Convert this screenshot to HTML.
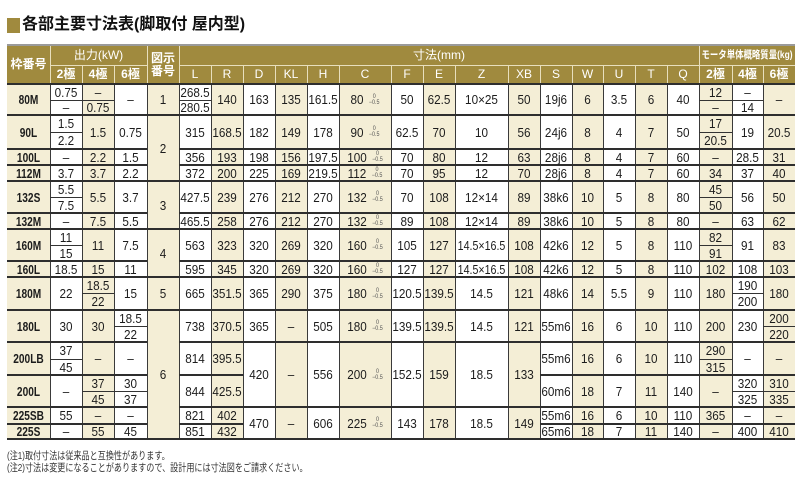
<!DOCTYPE html>
<html lang="ja">
<head>
<meta charset="utf-8">
<style>
html,body{margin:0;padding:0;background:#fff;}
body{width:800px;height:480px;position:relative;overflow:hidden;font-family:"Liberation Sans","Noto Sans CJK JP",sans-serif;}
.a{position:absolute;}
.sq{position:absolute;left:7px;top:18px;width:13px;height:15px;background:#a08a3e;}
.title{position:absolute;left:22px;top:15px;font-size:16px;line-height:20px;font-weight:bold;color:#111;white-space:nowrap;font-family:"Liberation Sans","Noto Sans CJK JP",sans-serif;}
.hdr{position:absolute;left:7px;top:46px;width:788px;height:37px;background:#a08a3e;}
.htop{position:absolute;left:7px;top:44px;width:788px;height:2px;background:#9a9a9a;}
.hl{position:absolute;background:#e8dfbd;}
.ht{position:absolute;display:flex;align-items:center;justify-content:center;color:#fff;font-size:12px;font-weight:bold;white-space:nowrap;text-align:center;line-height:13px;}
.sh{position:absolute;top:84px;height:355px;background:#f4eed6;}
.h{position:absolute;height:2px;background:#2e2e2e;}
.s{position:absolute;height:1.5px;background:#333;}
.v{position:absolute;top:84px;height:355px;width:1px;background:#3a3a3a;}
.c{position:absolute;display:flex;align-items:center;justify-content:center;font-size:13px;color:#1c1c1c;white-space:nowrap;transform:scaleX(.9);}
.lb{font-weight:bold;transform:scaleX(.78);}
.tol{display:inline-flex;flex-direction:column;align-items:center;font-size:6px;line-height:6px;color:#555;margin-left:6px;}
.tol i{font-style:normal;}
.note{position:absolute;left:7px;font-size:10.5px;color:#333;white-space:nowrap;transform:scaleX(.77);transform-origin:left center;font-family:"Liberation Sans","Noto Sans CJK JP",sans-serif;}
/* columns */
.k0{left:7px;width:43px}.k1{left:50px;width:32px}.k2{left:82px;width:32px}.k3{left:114px;width:33px}
.k4{left:147px;width:32px}.k5{left:179px;width:32px}.k6{left:211px;width:32px}.k7{left:243px;width:32px}
.k8{left:275px;width:32px}.k9{left:307px;width:32px}.k10{left:339px;width:52px}.k11{left:391px;width:32px}
.k12{left:423px;width:32px}.k13{left:455px;width:53px}.k14{left:508px;width:32px}.k15{left:540px;width:32px}
.k16{left:572px;width:31px}.k17{left:603px;width:32px}.k18{left:635px;width:32px}.k19{left:667px;width:32px}
.k20{left:699px;width:33px}.k21{left:732px;width:31px}.k22{left:763px;width:32px}
/* rows */
.r1{top:84px;height:31px}.r1a{top:84px;height:16px}.r1b{top:100px;height:15px}
.r2{top:115px;height:34px}.r2a{top:115px;height:17px}.r2b{top:132px;height:17px}
.r3{top:149px;height:16px}
.r4{top:165px;height:16px}
.r5{top:181px;height:32px}.r5a{top:181px;height:16px}.r5b{top:197px;height:16px}
.r6{top:213px;height:16px}
.r7{top:229px;height:32px}.r7a{top:229px;height:16px}.r7b{top:245px;height:16px}
.r8{top:261px;height:16px}
.r9{top:277px;height:33px}.r9a{top:277px;height:16px}.r9b{top:293px;height:17px}
.r10{top:310px;height:32px}.r10a{top:310px;height:16px}.r10b{top:326px;height:16px}
.r11{top:342px;height:33px}.r11a{top:342px;height:17px}.r11b{top:359px;height:16px}
.r12{top:375px;height:32px}.r12a{top:375px;height:16px}.r12b{top:391px;height:16px}
.r13{top:407px;height:17px}
.r14{top:424px;height:15px}
.m2{top:115px;height:66px}.m3{top:181px;height:48px}.m4{top:229px;height:48px}.m6{top:310px;height:129px}
.mA{top:342px;height:65px}.mB{top:407px;height:32px}
.z{transform:scaleX(.82);}
</style>
</head>
<body>

<div class="sq"></div>
<div class="title">各部主要寸法表(脚取付 屋内型)</div>

<!-- header -->
<div class="htop"></div>
<div class="hdr"></div>
<div class="hl" style="left:50px;top:65px;width:97px;height:1px"></div>
<div class="hl" style="left:179px;top:65px;width:616px;height:1px"></div>
<div class="hl" style="left:50px;top:46px;width:1px;height:37px"></div>
<div class="hl" style="left:147px;top:46px;width:1px;height:37px"></div>
<div class="hl" style="left:179px;top:46px;width:1px;height:37px"></div>
<div class="hl" style="left:699px;top:46px;width:1px;height:37px"></div>
<div class="hl" style="left:82px;top:65px;width:1px;height:18px"></div>
<div class="hl" style="left:114px;top:65px;width:1px;height:18px"></div>
<div class="hl" style="left:211px;top:65px;width:1px;height:18px"></div>
<div class="hl" style="left:243px;top:65px;width:1px;height:18px"></div>
<div class="hl" style="left:275px;top:65px;width:1px;height:18px"></div>
<div class="hl" style="left:307px;top:65px;width:1px;height:18px"></div>
<div class="hl" style="left:339px;top:65px;width:1px;height:18px"></div>
<div class="hl" style="left:391px;top:65px;width:1px;height:18px"></div>
<div class="hl" style="left:423px;top:65px;width:1px;height:18px"></div>
<div class="hl" style="left:455px;top:65px;width:1px;height:18px"></div>
<div class="hl" style="left:508px;top:65px;width:1px;height:18px"></div>
<div class="hl" style="left:540px;top:65px;width:1px;height:18px"></div>
<div class="hl" style="left:572px;top:65px;width:1px;height:18px"></div>
<div class="hl" style="left:603px;top:65px;width:1px;height:18px"></div>
<div class="hl" style="left:635px;top:65px;width:1px;height:18px"></div>
<div class="hl" style="left:667px;top:65px;width:1px;height:18px"></div>
<div class="hl" style="left:732px;top:65px;width:1px;height:18px"></div>
<div class="hl" style="left:763px;top:65px;width:1px;height:18px"></div>

<div class="ht" style="left:7px;top:46px;width:43px;height:37px">枠番号</div>
<div class="ht" style="left:50px;top:46px;width:97px;height:19px;font-weight:normal">出力(kW)</div>
<div class="ht" style="left:147px;top:46px;width:32px;height:37px">図示<br>番号</div>
<div class="ht" style="left:179px;top:46px;width:520px;height:19px;font-weight:normal">寸法(mm)</div>
<div class="ht" style="left:699px;top:46px;width:96px;height:19px;font-size:10.5px;transform:scaleX(.8)">モータ単体概略質量(kg)</div>
<div class="ht k1" style="top:65px;height:18px">2極</div>
<div class="ht k2" style="top:65px;height:18px">4極</div>
<div class="ht k3" style="top:65px;height:18px">6極</div>
<div class="ht k5" style="top:65px;height:18px;font-weight:normal">L</div>
<div class="ht k6" style="top:65px;height:18px;font-weight:normal">R</div>
<div class="ht k7" style="top:65px;height:18px;font-weight:normal">D</div>
<div class="ht k8" style="top:65px;height:18px;font-weight:normal">KL</div>
<div class="ht k9" style="top:65px;height:18px;font-weight:normal">H</div>
<div class="ht k10" style="top:65px;height:18px;font-weight:normal">C</div>
<div class="ht k11" style="top:65px;height:18px;font-weight:normal">F</div>
<div class="ht k12" style="top:65px;height:18px;font-weight:normal">E</div>
<div class="ht k13" style="top:65px;height:18px;font-weight:normal">Z</div>
<div class="ht k14" style="top:65px;height:18px;font-weight:normal">XB</div>
<div class="ht k15" style="top:65px;height:18px;font-weight:normal">S</div>
<div class="ht k16" style="top:65px;height:18px;font-weight:normal">W</div>
<div class="ht k17" style="top:65px;height:18px;font-weight:normal">U</div>
<div class="ht k18" style="top:65px;height:18px;font-weight:normal">T</div>
<div class="ht k19" style="top:65px;height:18px;font-weight:normal">Q</div>
<div class="ht k20" style="top:65px;height:18px">2極</div>
<div class="ht k21" style="top:65px;height:18px">4極</div>
<div class="ht k22" style="top:65px;height:18px">6極</div>

<!-- shaded column stripes -->
<div class="sh k0"></div><div class="sh k2"></div><div class="sh k4"></div><div class="sh k6"></div>
<div class="sh k8"></div><div class="sh k10"></div><div class="sh k12"></div><div class="sh k14"></div>
<div class="sh k16"></div><div class="sh k18"></div><div class="sh k20"></div><div class="sh k22"></div>

<!-- vertical lines -->
<div class="v" style="left:50px"></div><div class="v" style="left:82px"></div><div class="v" style="left:114px"></div>
<div class="v" style="left:147px"></div><div class="v" style="left:179px"></div><div class="v" style="left:211px"></div>
<div class="v" style="left:243px"></div><div class="v" style="left:275px"></div><div class="v" style="left:307px"></div>
<div class="v" style="left:339px"></div><div class="v" style="left:391px"></div><div class="v" style="left:423px"></div>
<div class="v" style="left:455px"></div><div class="v" style="left:508px"></div><div class="v" style="left:540px"></div>
<div class="v" style="left:572px"></div><div class="v" style="left:603px"></div><div class="v" style="left:635px"></div>
<div class="v" style="left:667px"></div><div class="v" style="left:699px"></div><div class="v" style="left:732px"></div>
<div class="v" style="left:763px"></div>

<!-- main horizontal lines -->
<div class="h" style="left:7px;width:788px;top:83px"></div>
<div class="h" style="left:7px;width:788px;top:114px"></div>
<div class="h" style="left:7px;width:140px;top:148px"></div><div class="h" style="left:179px;width:616px;top:148px"></div>
<div class="h" style="left:7px;width:140px;top:164px"></div><div class="h" style="left:179px;width:616px;top:164px"></div>
<div class="h" style="left:7px;width:788px;top:180px"></div>
<div class="h" style="left:7px;width:140px;top:212px"></div><div class="h" style="left:179px;width:616px;top:212px"></div>
<div class="h" style="left:7px;width:788px;top:228px"></div>
<div class="h" style="left:7px;width:140px;top:260px"></div><div class="h" style="left:179px;width:616px;top:260px"></div>
<div class="h" style="left:7px;width:788px;top:276px"></div>
<div class="h" style="left:7px;width:788px;top:309px"></div>
<div class="h" style="left:7px;width:140px;top:341px"></div><div class="h" style="left:179px;width:616px;top:341px"></div>
<div class="h" style="left:7px;width:140px;top:374px"></div><div class="h" style="left:179px;width:64px;top:374px"></div><div class="h" style="left:540px;width:255px;top:374px"></div>
<div class="h" style="left:7px;width:140px;top:406px"></div><div class="h" style="left:179px;width:616px;top:406px"></div>
<div class="h" style="left:7px;width:140px;top:423px"></div><div class="h" style="left:179px;width:64px;top:423px"></div><div class="h" style="left:540px;width:255px;top:423px"></div>
<div class="h" style="left:7px;width:788px;top:438px"></div>

<!-- split lines -->
<div class="s k1" style="top:99.5px"></div><div class="s k2" style="top:99.5px"></div><div class="s k5" style="top:99.5px"></div><div class="s k20" style="top:99.5px"></div><div class="s k21" style="top:99.5px"></div>
<div class="s k1" style="top:131.5px"></div><div class="s k20" style="top:131.5px"></div>
<div class="s k1" style="top:196.5px"></div><div class="s k20" style="top:196.5px"></div>
<div class="s k1" style="top:244.5px"></div><div class="s k20" style="top:244.5px"></div>
<div class="s k2" style="top:292.5px"></div><div class="s k21" style="top:292.5px"></div>
<div class="s k3" style="top:325.5px"></div><div class="s k22" style="top:325.5px"></div>
<div class="s k1" style="top:358.5px"></div><div class="s k20" style="top:358.5px"></div>
<div class="s k2" style="top:390.5px"></div><div class="s k3" style="top:390.5px"></div><div class="s k21" style="top:390.5px"></div><div class="s k22" style="top:390.5px"></div>

<!-- merged 図示番号 -->
<div class="c k4 r1">1</div>
<div class="c k4 m2">2</div>
<div class="c k4 m3">3</div>
<div class="c k4 m4">4</div>
<div class="c k4 r9">5</div>
<div class="c k4 m6">6</div>

<!-- Row 80M -->
<div class="c lb k0 r1">80M</div>
<div class="c k1 r1a">0.75</div><div class="c k1 r1b">–</div>
<div class="c k2 r1a">–</div><div class="c k2 r1b">0.75</div>
<div class="c k3 r1">–</div>
<div class="c k5 r1a">268.5</div><div class="c k5 r1b">280.5</div>
<div class="c k6 r1">140</div><div class="c k7 r1">163</div><div class="c k8 r1">135</div><div class="c k9 r1">161.5</div>
<div class="c k10 r1">80<span class="tol"><i>0</i><i>−0.5</i></span></div>
<div class="c k11 r1">50</div><div class="c k12 r1">62.5</div><div class="c k13 r1">10×25</div><div class="c k14 r1">50</div>
<div class="c k15 r1">19j6</div><div class="c k16 r1">6</div><div class="c k17 r1">3.5</div><div class="c k18 r1">6</div><div class="c k19 r1">40</div>
<div class="c k20 r1a">12</div><div class="c k20 r1b">–</div>
<div class="c k21 r1a">–</div><div class="c k21 r1b">14</div>
<div class="c k22 r1">–</div>

<!-- Row 90L -->
<div class="c lb k0 r2">90L</div>
<div class="c k1 r2a">1.5</div><div class="c k1 r2b">2.2</div>
<div class="c k2 r2">1.5</div><div class="c k3 r2">0.75</div>
<div class="c k5 r2">315</div><div class="c k6 r2">168.5</div><div class="c k7 r2">182</div><div class="c k8 r2">149</div><div class="c k9 r2">178</div>
<div class="c k10 r2">90<span class="tol"><i>0</i><i>−0.5</i></span></div>
<div class="c k11 r2">62.5</div><div class="c k12 r2">70</div><div class="c k13 r2">10</div><div class="c k14 r2">56</div>
<div class="c k15 r2">24j6</div><div class="c k16 r2">8</div><div class="c k17 r2">4</div><div class="c k18 r2">7</div><div class="c k19 r2">50</div>
<div class="c k20 r2a">17</div><div class="c k20 r2b">20.5</div>
<div class="c k21 r2">19</div><div class="c k22 r2">20.5</div>

<!-- Row 100L -->
<div class="c lb k0 r3">100L</div>
<div class="c k1 r3">–</div><div class="c k2 r3">2.2</div><div class="c k3 r3">1.5</div>
<div class="c k5 r3">356</div><div class="c k6 r3">193</div><div class="c k7 r3">198</div><div class="c k8 r3">156</div><div class="c k9 r3">197.5</div>
<div class="c k10 r3">100<span class="tol"><i>0</i><i>−0.5</i></span></div>
<div class="c k11 r3">70</div><div class="c k12 r3">80</div><div class="c k13 r3">12</div><div class="c k14 r3">63</div>
<div class="c k15 r3">28j6</div><div class="c k16 r3">8</div><div class="c k17 r3">4</div><div class="c k18 r3">7</div><div class="c k19 r3">60</div>
<div class="c k20 r3">–</div><div class="c k21 r3">28.5</div><div class="c k22 r3">31</div>

<!-- Row 112M -->
<div class="c lb k0 r4">112M</div>
<div class="c k1 r4">3.7</div><div class="c k2 r4">3.7</div><div class="c k3 r4">2.2</div>
<div class="c k5 r4">372</div><div class="c k6 r4">200</div><div class="c k7 r4">225</div><div class="c k8 r4">169</div><div class="c k9 r4">219.5</div>
<div class="c k10 r4">112<span class="tol"><i>0</i><i>−0.5</i></span></div>
<div class="c k11 r4">70</div><div class="c k12 r4">95</div><div class="c k13 r4">12</div><div class="c k14 r4">70</div>
<div class="c k15 r4">28j6</div><div class="c k16 r4">8</div><div class="c k17 r4">4</div><div class="c k18 r4">7</div><div class="c k19 r4">60</div>
<div class="c k20 r4">34</div><div class="c k21 r4">37</div><div class="c k22 r4">40</div>

<!-- Row 132S -->
<div class="c lb k0 r5">132S</div>
<div class="c k1 r5a">5.5</div><div class="c k1 r5b">7.5</div>
<div class="c k2 r5">5.5</div><div class="c k3 r5">3.7</div>
<div class="c k5 r5">427.5</div><div class="c k6 r5">239</div><div class="c k7 r5">276</div><div class="c k8 r5">212</div><div class="c k9 r5">270</div>
<div class="c k10 r5">132<span class="tol"><i>0</i><i>−0.5</i></span></div>
<div class="c k11 r5">70</div><div class="c k12 r5">108</div><div class="c k13 r5">12×14</div><div class="c k14 r5">89</div>
<div class="c k15 r5">38k6</div><div class="c k16 r5">10</div><div class="c k17 r5">5</div><div class="c k18 r5">8</div><div class="c k19 r5">80</div>
<div class="c k20 r5a">45</div><div class="c k20 r5b">50</div>
<div class="c k21 r5">56</div><div class="c k22 r5">50</div>

<!-- Row 132M -->
<div class="c lb k0 r6">132M</div>
<div class="c k1 r6">–</div><div class="c k2 r6">7.5</div><div class="c k3 r6">5.5</div>
<div class="c k5 r6">465.5</div><div class="c k6 r6">258</div><div class="c k7 r6">276</div><div class="c k8 r6">212</div><div class="c k9 r6">270</div>
<div class="c k10 r6">132<span class="tol"><i>0</i><i>−0.5</i></span></div>
<div class="c k11 r6">89</div><div class="c k12 r6">108</div><div class="c k13 r6">12×14</div><div class="c k14 r6">89</div>
<div class="c k15 r6">38k6</div><div class="c k16 r6">10</div><div class="c k17 r6">5</div><div class="c k18 r6">8</div><div class="c k19 r6">80</div>
<div class="c k20 r6">–</div><div class="c k21 r6">63</div><div class="c k22 r6">62</div>

<!-- Row 160M -->
<div class="c lb k0 r7">160M</div>
<div class="c k1 r7a">11</div><div class="c k1 r7b">15</div>
<div class="c k2 r7">11</div><div class="c k3 r7">7.5</div>
<div class="c k5 r7">563</div><div class="c k6 r7">323</div><div class="c k7 r7">320</div><div class="c k8 r7">269</div><div class="c k9 r7">320</div>
<div class="c k10 r7">160<span class="tol"><i>0</i><i>−0.5</i></span></div>
<div class="c k11 r7">105</div><div class="c k12 r7">127</div><div class="c k13 r7 z">14.5×16.5</div><div class="c k14 r7">108</div>
<div class="c k15 r7">42k6</div><div class="c k16 r7">12</div><div class="c k17 r7">5</div><div class="c k18 r7">8</div><div class="c k19 r7">110</div>
<div class="c k20 r7a">82</div><div class="c k20 r7b">91</div>
<div class="c k21 r7">91</div><div class="c k22 r7">83</div>

<!-- Row 160L -->
<div class="c lb k0 r8">160L</div>
<div class="c k1 r8">18.5</div><div class="c k2 r8">15</div><div class="c k3 r8">11</div>
<div class="c k5 r8">595</div><div class="c k6 r8">345</div><div class="c k7 r8">320</div><div class="c k8 r8">269</div><div class="c k9 r8">320</div>
<div class="c k10 r8">160<span class="tol"><i>0</i><i>−0.5</i></span></div>
<div class="c k11 r8">127</div><div class="c k12 r8">127</div><div class="c k13 r8 z">14.5×16.5</div><div class="c k14 r8">108</div>
<div class="c k15 r8">42k6</div><div class="c k16 r8">12</div><div class="c k17 r8">5</div><div class="c k18 r8">8</div><div class="c k19 r8">110</div>
<div class="c k20 r8">102</div><div class="c k21 r8">108</div><div class="c k22 r8">103</div>

<!-- Row 180M -->
<div class="c lb k0 r9">180M</div>
<div class="c k1 r9">22</div>
<div class="c k2 r9a">18.5</div><div class="c k2 r9b">22</div>
<div class="c k3 r9">15</div>
<div class="c k5 r9">665</div><div class="c k6 r9">351.5</div><div class="c k7 r9">365</div><div class="c k8 r9">290</div><div class="c k9 r9">375</div>
<div class="c k10 r9">180<span class="tol"><i>0</i><i>−0.5</i></span></div>
<div class="c k11 r9">120.5</div><div class="c k12 r9">139.5</div><div class="c k13 r9">14.5</div><div class="c k14 r9">121</div>
<div class="c k15 r9">48k6</div><div class="c k16 r9">14</div><div class="c k17 r9">5.5</div><div class="c k18 r9">9</div><div class="c k19 r9">110</div>
<div class="c k20 r9">180</div>
<div class="c k21 r9a">190</div><div class="c k21 r9b">200</div>
<div class="c k22 r9">180</div>

<!-- Row 180L -->
<div class="c lb k0 r10">180L</div>
<div class="c k1 r10">30</div><div class="c k2 r10">30</div>
<div class="c k3 r10a">18.5</div><div class="c k3 r10b">22</div>
<div class="c k5 r10">738</div><div class="c k6 r10">370.5</div><div class="c k7 r10">365</div><div class="c k8 r10">–</div><div class="c k9 r10">505</div>
<div class="c k10 r10">180<span class="tol"><i>0</i><i>−0.5</i></span></div>
<div class="c k11 r10">139.5</div><div class="c k12 r10">139.5</div><div class="c k13 r10">14.5</div><div class="c k14 r10">121</div>
<div class="c k15 r10">55m6</div><div class="c k16 r10">16</div><div class="c k17 r10">6</div><div class="c k18 r10">10</div><div class="c k19 r10">110</div>
<div class="c k20 r10">200</div><div class="c k21 r10">230</div>
<div class="c k22 r10a">200</div><div class="c k22 r10b">220</div>

<!-- Row 200LB -->
<div class="c lb k0 r11">200LB</div>
<div class="c k1 r11a">37</div><div class="c k1 r11b">45</div>
<div class="c k2 r11">–</div><div class="c k3 r11">–</div>
<div class="c k5 r11">814</div><div class="c k6 r11">395.5</div>
<div class="c k7 mA">420</div><div class="c k8 mA">–</div><div class="c k9 mA">556</div>
<div class="c k10 mA">200<span class="tol"><i>0</i><i>−0.5</i></span></div>
<div class="c k11 mA">152.5</div><div class="c k12 mA">159</div><div class="c k13 mA">18.5</div><div class="c k14 mA">133</div>
<div class="c k15 r11">55m6</div><div class="c k16 r11">16</div><div class="c k17 r11">6</div><div class="c k18 r11">10</div><div class="c k19 r11">110</div>
<div class="c k20 r11a">290</div><div class="c k20 r11b">315</div>
<div class="c k21 r11">–</div><div class="c k22 r11">–</div>

<!-- Row 200L -->
<div class="c lb k0 r12">200L</div>
<div class="c k1 r12">–</div>
<div class="c k2 r12a">37</div><div class="c k2 r12b">45</div>
<div class="c k3 r12a">30</div><div class="c k3 r12b">37</div>
<div class="c k5 r12">844</div><div class="c k6 r12">425.5</div>
<div class="c k15 r12">60m6</div><div class="c k16 r12">18</div><div class="c k17 r12">7</div><div class="c k18 r12">11</div><div class="c k19 r12">140</div>
<div class="c k20 r12">–</div>
<div class="c k21 r12a">320</div><div class="c k21 r12b">325</div>
<div class="c k22 r12a">310</div><div class="c k22 r12b">335</div>

<!-- Row 225SB -->
<div class="c lb k0 r13">225SB</div>
<div class="c k1 r13">55</div><div class="c k2 r13">–</div><div class="c k3 r13">–</div>
<div class="c k5 r13">821</div><div class="c k6 r13">402</div>
<div class="c k7 mB">470</div><div class="c k8 mB">–</div><div class="c k9 mB">606</div>
<div class="c k10 mB">225<span class="tol"><i>0</i><i>−0.5</i></span></div>
<div class="c k11 mB">143</div><div class="c k12 mB">178</div><div class="c k13 mB">18.5</div><div class="c k14 mB">149</div>
<div class="c k15 r13">55m6</div><div class="c k16 r13">16</div><div class="c k17 r13">6</div><div class="c k18 r13">10</div><div class="c k19 r13">110</div>
<div class="c k20 r13">365</div><div class="c k21 r13">–</div><div class="c k22 r13">–</div>

<!-- Row 225S -->
<div class="c lb k0 r14">225S</div>
<div class="c k1 r14">–</div><div class="c k2 r14">55</div><div class="c k3 r14">45</div>
<div class="c k5 r14">851</div><div class="c k6 r14">432</div>
<div class="c k15 r14">65m6</div><div class="c k16 r14">18</div><div class="c k17 r14">7</div><div class="c k18 r14">11</div><div class="c k19 r14">140</div>
<div class="c k20 r14">–</div><div class="c k21 r14">400</div><div class="c k22 r14">410</div>

<!-- notes -->
<div class="note" style="top:448px">(注1)取付寸法は従来品と互換性があります。</div>
<div class="note" style="top:460px">(注2)寸法は変更になることがありますので、設計用には寸法図をご請求ください。</div>

</body>
</html>
